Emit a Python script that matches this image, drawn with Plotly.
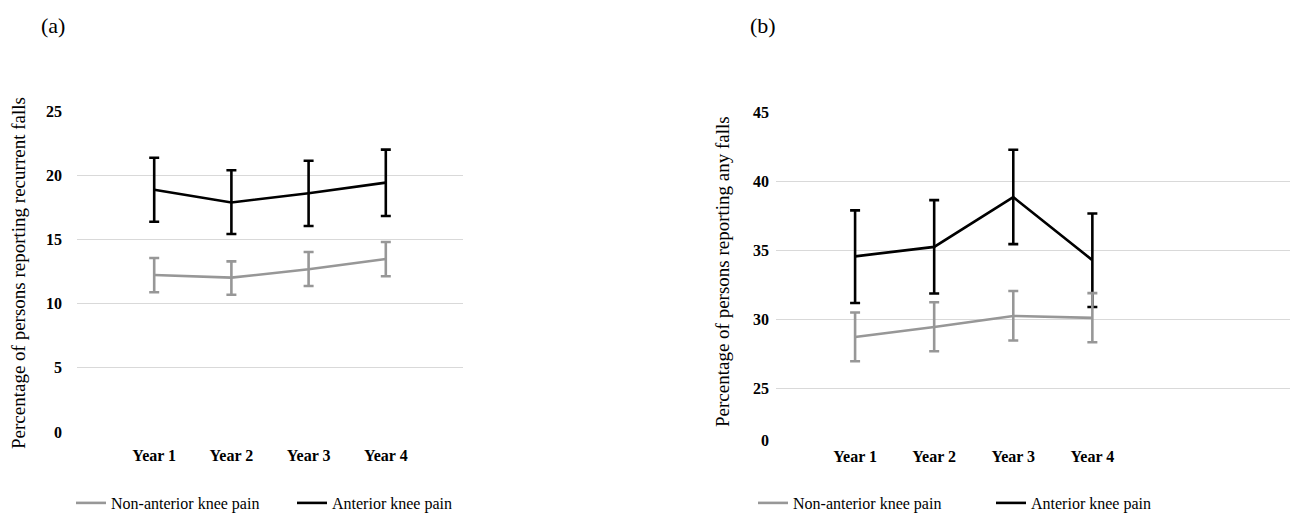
import plotly.graph_objects as go

years = ["Year 1", "Year 2", "Year 3", "Year 4"]
year_pos = [1, 2, 3, 4]

# Panel (a): recurrent falls
a_ant_mean = [18.87, 17.88, 18.60, 19.42]
a_ant_upper = [21.36, 20.38, 21.13, 21.99]
a_ant_lower = [16.38, 15.42, 16.04, 16.82]
a_non_mean = [12.23, 12.02, 12.67, 13.47]
a_non_upper = [13.55, 13.29, 14.02, 14.80]
a_non_lower = [10.88, 10.69, 11.37, 12.13]

# Panel (b): any falls
b_ant_mean = [34.57, 35.26, 38.86, 34.30]
b_ant_upper = [37.90, 38.64, 42.29, 37.68]
b_ant_lower = [31.20, 31.88, 35.46, 30.91]
b_non_mean = [28.74, 29.46, 30.26, 30.12]
b_non_upper = [30.51, 31.25, 32.07, 31.91]
b_non_lower = [26.98, 27.70, 28.48, 28.36]

a_ticks = [0, 5, 10, 15, 20, 25]
b_break = 21.23  # position of the broken-axis "0" label
b_ticks = [b_break, 25, 30, 35, 40, 45]
b_ticktext = ["0", "25", "30", "35", "40", "45"]

BLACK = "#000000"
GREY = "#979797"
SERIF = "Liberation Serif, Times New Roman, serif"

PAGE_W, PAGE_H = 1298, 516
OFF = 8  # default body margin of the html page
W, H = PAGE_W - OFF, PAGE_H - OFF


def px_x(p):
    return (p - OFF) / W


def px_y(p):
    return (PAGE_H - p) / H


def err(mean, up, lo):
    return ([u - m for u, m in zip(up, mean)], [m - l for m, l in zip(mean, lo)])


fig = go.Figure()


def add_panel(xa, ya, legend, ant, non):
    am, au, al = ant
    nm, nu, nl = non
    e_up, e_lo = err(am, au, al)
    fig.add_trace(go.Scatter(
        x=year_pos, y=am, mode="lines", name="Anterior knee pain",
        line=dict(color=BLACK, width=2.6),
        error_y=dict(type="data", symmetric=False, array=e_up, arrayminus=e_lo,
                     color=BLACK, thickness=2.6, width=5),
        xaxis=xa, yaxis=ya, legend=legend, legendrank=2,
    ))
    e_up, e_lo = err(nm, nu, nl)
    fig.add_trace(go.Scatter(
        x=year_pos, y=nm, mode="lines", name="Non-anterior knee pain",
        line=dict(color=GREY, width=2.6),
        error_y=dict(type="data", symmetric=False, array=e_up, arrayminus=e_lo,
                     color=GREY, thickness=2.6, width=5),
        xaxis=xa, yaxis=ya, legend=legend, legendrank=1,
    ))


add_panel("x", "y", "legend", (a_ant_mean, a_ant_upper, a_ant_lower),
          (a_non_mean, a_non_upper, a_non_lower))
add_panel("x2", "y2", "legend2", (b_ant_mean, b_ant_upper, b_ant_lower),
          (b_non_mean, b_non_upper, b_non_lower))

xcommon = dict(
    tickvals=year_pos, ticktext=years, showgrid=False, zeroline=False,
    showline=False, ticks="", automargin=False,
    tickfont=dict(family=SERIF, size=16, color="#000000", weight="bold"),
    fixedrange=True,
)
ycommon = dict(
    showgrid=True, gridcolor="#d9d9d9", gridwidth=1, zeroline=False,
    showline=False, ticks="", automargin=False,
    tickfont=dict(family=SERIF, size=16, color="#000000", weight="bold"),
    fixedrange=True,
)

fig.update_layout(
    width=W, height=H,
    margin=dict(l=0, r=0, t=0, b=0, autoexpand=False),
    paper_bgcolor="white", plot_bgcolor="white",
    font=dict(family=SERIF, size=16, color="#000000"),
    xaxis=dict(domain=[px_x(77), px_x(463)], range=[0, 5],
               ticklabelstandoff=12, **xcommon),
    yaxis=dict(domain=[px_y(432), px_y(111)], range=[0, 25],
               tickvals=a_ticks, ticklabelstandoff=14, **ycommon),
    xaxis2=dict(domain=[px_x(776), 1.0], range=[0, 6.6],
                ticklabelstandoff=4, anchor="y2", **xcommon),
    yaxis2=dict(domain=[px_y(440.7), px_y(112.3)], range=[b_break, 45],
                tickvals=b_ticks, ticktext=b_ticktext, ticklabelstandoff=6,
                anchor="x2", **ycommon),
    legend=dict(orientation="h", x=px_x(71), y=px_y(503), xanchor="left",
                yanchor="middle", font=dict(family=SERIF, size=16),
                entrywidth=176, entrywidthmode="pixels",
                bgcolor="rgba(0,0,0,0)"),
    legend2=dict(orientation="h", x=px_x(753), y=px_y(503), xanchor="left",
                 yanchor="middle", font=dict(family=SERIF, size=16),
                 entrywidth=193, entrywidthmode="pixels",
                 bgcolor="rgba(0,0,0,0)"),
    showlegend=True,
)

annotations = [
    dict(text="(a)", x=px_x(53), y=px_y(25)),
    dict(text="(b)", x=px_x(763), y=px_y(25)),
    dict(text="Percentage of persons reporting recurrent falls", textangle=-90,
         x=px_x(18), y=px_y(273)),
    dict(text="Percentage of persons reporting any falls", textangle=-90,
         x=px_x(722), y=px_y(272)),
]
for ann, size in zip(annotations, [22, 22, 19, 19]):
    ann.update(xref="paper", yref="paper", showarrow=False,
               xanchor="center", yanchor="middle",
               font=dict(family=SERIF, size=size, color="#000000"))
fig.update_layout(annotations=annotations)

fig.write_html("out.html")
